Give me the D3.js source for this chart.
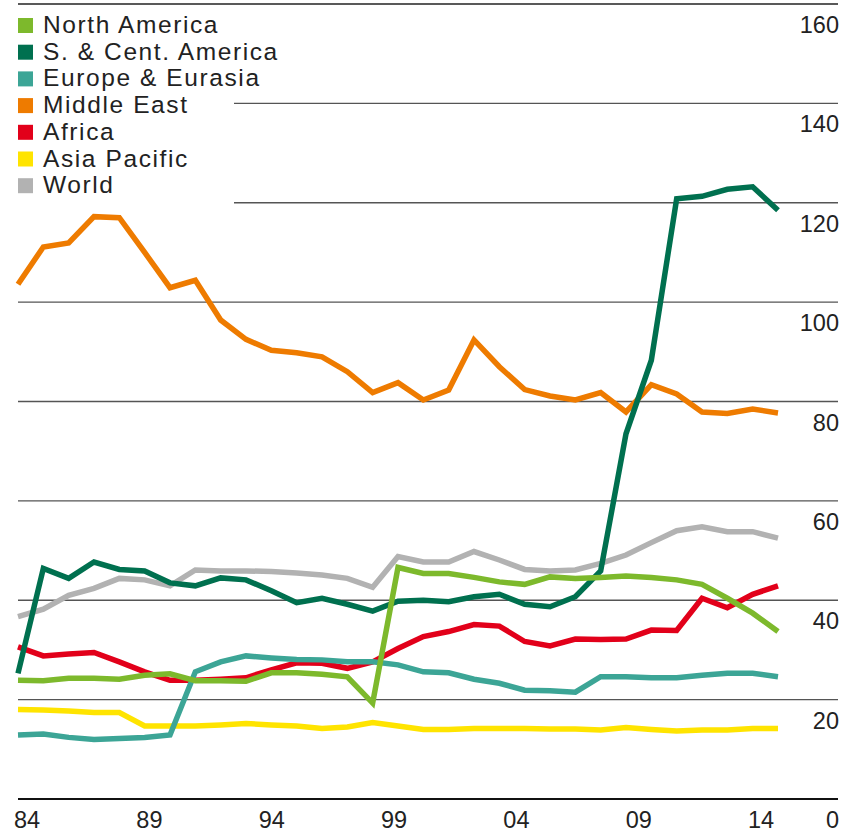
<!DOCTYPE html>
<html lang="en">
<head>
<meta charset="UTF-8">
<title>Regional lines 1984-2014</title>
<script src="https://d3js.org/d3.v7.min.js"></script>
<style>
  body { margin: 0; background: #fff; }
  text { font-family: "Liberation Sans", Arial, sans-serif; fill: #222; }
</style>
</head>
<body>
<svg width="860" height="836"></svg>
<script>
// Data, 1984-2014
const years = d3.range(1984, 2015);

const northAmerica = [23.9, 23.8, 24.3, 24.3, 24.1, 24.9, 25.2, 23.8, 23.8, 23.7, 25.4, 25.4, 25.1, 24.6, 19.3,
  46.6, 45.4, 45.4, 44.6, 43.7, 43.2, 44.7, 44.4, 44.6, 44.9, 44.6, 44.1, 43.2, 40.4, 37.4, 33.7];
const southCentAmerica = [25.3, 46.4, 44.4, 47.7, 46.2, 45.9, 43.5, 42.9, 44.5, 44.1, 41.9, 39.5, 40.4, 39.2, 37.8,
  39.8, 40.0, 39.7, 40.7, 41.2, 39.2, 38.7, 40.7, 45.9, 73.5, 88.3, 120.8, 121.3, 122.7, 123.2, 118.5];
const europeEurasia = [12.9, 13.1, 12.4, 12.0, 12.2, 12.4, 12.9, 25.6, 27.6, 28.8, 28.4, 28.1, 28.0, 27.6, 27.6,
  27.0, 25.6, 25.4, 24.1, 23.3, 21.9, 21.8, 21.5, 24.6, 24.6, 24.4, 24.4, 24.9, 25.3, 25.3, 24.6];
const middleEast = [103.6, 111.1, 111.9, 117.2, 117.0, 110.0, 102.9, 104.4, 96.4, 92.5, 90.3, 89.8, 89.0, 86.0, 81.8,
  83.8, 80.3, 82.3, 92.4, 87.0, 82.4, 81.1, 80.3, 81.8, 77.9, 83.4, 81.5, 77.9, 77.6, 78.5, 77.7];
const africa = [30.6, 28.8, 29.2, 29.5, 27.6, 25.6, 23.9, 23.9, 24.1, 24.4, 26.0, 27.4, 27.3, 26.3, 27.6,
  30.3, 32.7, 33.7, 35.1, 34.8, 31.7, 30.8, 32.2, 32.1, 32.2, 34.0, 33.9, 40.4, 38.5, 41.2, 42.9];
const asiaPacific = [18.0, 17.9, 17.7, 17.4, 17.4, 14.7, 14.7, 14.7, 14.9, 15.2, 14.9, 14.7, 14.2, 14.5, 15.4,
  14.7, 14.0, 14.0, 14.2, 14.2, 14.2, 14.1, 14.1, 13.9, 14.4, 14.0, 13.7, 13.9, 13.9, 14.2, 14.2];
const world = [36.7, 38.2, 41.0, 42.4, 44.4, 44.1, 42.9, 46.1, 45.9, 45.9, 45.8, 45.5, 45.1, 44.4, 42.6,
  48.8, 47.7, 47.7, 49.8, 48.1, 46.2, 45.9, 46.1, 47.4, 49.1, 51.6, 54.0, 54.8, 53.8, 53.8, 52.5];

const seriesNames = ["North America", "S. & Cent. America", "Europe & Eurasia", "Middle East", "Africa", "Asia Pacific", "World"];
const seriesColors = ["#7db92c", "#00704f", "#3ca596", "#ee7b00", "#e2001a", "#ffe400", "#b2b2b2"];
const seriesValues = [northAmerica, southCentAmerica, europeEurasia, middleEast, africa, asiaPacific, world];

const yTicks = [0, 20, 40, 60, 80, 100, 120, 140, 160];
const xTickYears = [1984, 1989, 1994, 1999, 2004, 2009, 2014];

const svg = d3.select("svg");

const x = d3.scaleLinear().domain([1984, 2014]).range([18, 778]);
const y = d3.scaleLinear().domain([0, 160]).range([799, 4]);
// year labels sit on their own even spacing in the original
const xLabel = d3.scaleLinear().domain([1984, 2014]).range([14, 748]);

// gridlines (140 and 120 stop short of the legend)
svg.append("g")
  .selectAll("line")
  .data(yTicks.filter(d => d > 0))
  .join("line")
    .attr("x1", d => (d === 140 || d === 120) ? 234 : 18)
    .attr("x2", 838)
    .attr("y1", d => y(d))
    .attr("y2", d => y(d))
    .attr("stroke", d => d === 160 ? "#222" : "#555")
    .attr("stroke-width", 1.3);

// baseline
svg.append("line")
  .attr("x1", 18).attr("x2", 838)
  .attr("y1", y(0)).attr("y2", y(0))
  .attr("stroke", "#111")
  .attr("stroke-width", 2.2);

// right value labels
svg.append("g")
  .selectAll("text")
  .data(yTicks)
  .join("text")
    .attr("x", 839)
    .attr("y", d => y(d) + 29)
    .attr("text-anchor", "end")
    .attr("font-size", "23.5px")
    .text(d => d);

// year labels
svg.append("g")
  .selectAll("text")
  .data(xTickYears)
  .join("text")
    .attr("x", d => xLabel(d))
    .attr("y", 828)
    .attr("font-size", "23.5px")
    .text(d => String(d).slice(2));

// lines, World at the bottom, North America on top
const line = d3.line()
  .x((d, i) => x(years[i]))
  .y(d => y(d));

const order = d3.range(seriesNames.length).reverse();
svg.append("g")
  .selectAll("path")
  .data(order)
  .join("path")
    .attr("d", i => line(seriesValues[i]))
    .attr("fill", "none")
    .attr("stroke", i => seriesColors[i])
    .attr("stroke-width", 5.5)
    .attr("stroke-linejoin", "miter")
    .attr("stroke-miterlimit", 3);

// legend
const legend = svg.append("g")
  .selectAll("g")
  .data(seriesNames)
  .join("g")
    .attr("transform", (d, i) => `translate(18,${33 + i * 26.7})`);

legend.append("rect")
  .attr("x", 0).attr("y", -15)
  .attr("width", 15).attr("height", 15)
  .attr("fill", (d, i) => seriesColors[i]);

legend.append("text")
  .attr("x", 25)
  .attr("y", 0)
  .attr("font-size", "24.5px")
  .attr("letter-spacing", "1.6px")
  .text(d => d);
</script>
</body>
</html>
